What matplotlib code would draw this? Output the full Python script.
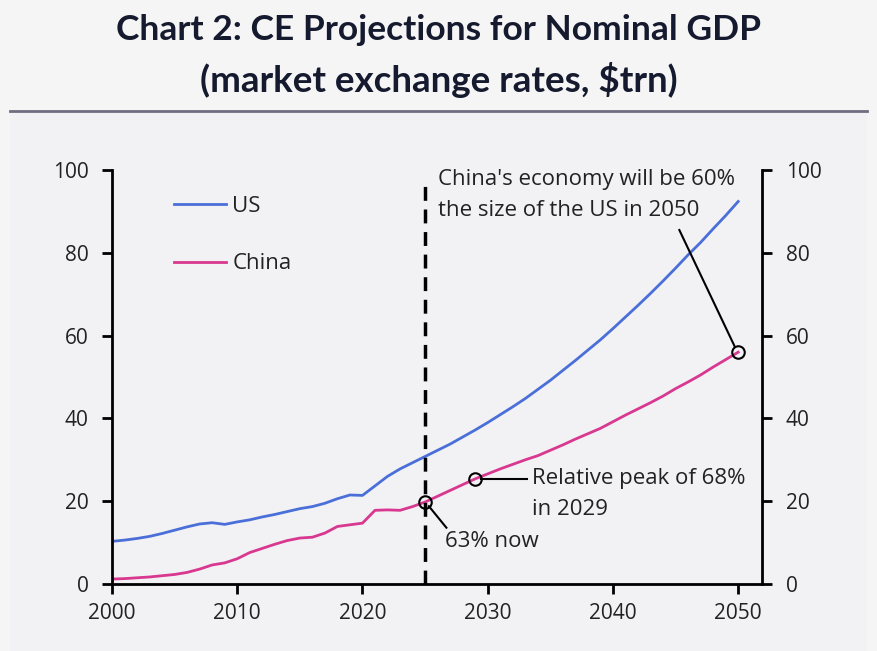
import numpy as np
import matplotlib
matplotlib.use("Agg")
import matplotlib.pyplot as plt
from matplotlib.patches import Rectangle

plt.rcParams['font.family'] = ['Open Sans', 'DejaVu Sans']

# data ($trn, market exchange rates)
years = list(range(2000, 2051))
us = [10.3, 10.6, 11.0, 11.5, 12.2, 13.0, 13.8, 14.5, 14.8, 14.4, 15.0, 15.5, 16.2, 16.8, 17.5,
      18.2, 18.7, 19.5, 20.6, 21.5, 21.4, 23.7, 26.0, 27.8, 29.3, 30.8, 32.3, 33.8, 35.5, 37.2,
      39.0, 40.9, 42.8, 44.8, 47.0, 49.2, 51.6, 54.0, 56.5, 59.0, 61.7, 64.5, 67.3, 70.2, 73.2,
      76.3, 79.5, 82.5, 85.8, 89.0, 92.4]
china = [1.2, 1.3, 1.5, 1.7, 2.0, 2.3, 2.8, 3.6, 4.6, 5.1, 6.1, 7.6, 8.6, 9.6, 10.5,
         11.1, 11.3, 12.3, 13.9, 14.3, 14.7, 17.8, 17.9, 17.8, 18.7, 19.8, 21.2, 22.6, 24.0, 25.4,
         26.6, 27.8, 28.9, 30.0, 31.0, 32.3, 33.6, 35.0, 36.3, 37.6, 39.2, 40.8, 42.3, 43.8, 45.4,
         47.2, 48.8, 50.5, 52.4, 54.2, 56.0]
yticks = [0, 20, 40, 60, 80, 100]
xticks = [2000, 2010, 2020, 2030, 2040, 2050]

blue = '#4a6fd8'
pink = '#d8388f'
txt = '#222222'
fs = 16

fig = plt.figure(figsize=(8.77, 6.51), dpi=100, facecolor='#f5f5f6')
fig.patches.append(Rectangle((10/877, 0), 857/877, 540/651, transform=fig.transFigure,
                             facecolor='#f2f2f5', edgecolor='none', zorder=-5))
fig.lines.append(plt.Line2D([10/877, 867/877], [540/651, 540/651], transform=fig.transFigure,
                            color='#6e6e80', lw=2, zorder=-4))

fig.text(0.5, 1 - 30/651, "Chart 2: CE Projections for Nominal GDP", ha='center', va='center',
         fontsize=25.5, fontweight='bold', color='#151a2e', family=['Lato', 'DejaVu Sans'])
fig.text(0.5, 1 - 80/651, "(market exchange rates, $trn)", ha='center', va='center',
         fontsize=26.5, fontweight='bold', color='#151a2e', family=['Lato', 'DejaVu Sans'])

ax = fig.add_axes([112/877, 1 - 584/651, 650/877, 414/651])
ax.set_facecolor('none')
ax.set_zorder(2)

ax.plot(years, us, color=blue, lw=2, label='US')
ax.plot(years, china, color=pink, lw=2, label='China')

ax.set_xlim(2000, 2051.9)
ax.set_ylim(0, 100)
ax.set_xticks(xticks)
ax.set_yticks(yticks)
ax.spines['top'].set_visible(False)
for s in ['left', 'right', 'bottom']:
    ax.spines[s].set_linewidth(2)
    ax.spines[s].set_color('black')
ax.tick_params(axis='both', direction='out', length=7, width=2, labelsize=15, labelcolor=txt)
ax.tick_params(axis='x', pad=7)
ax.tick_params(axis='y', left=True, right=True, labelleft=True, labelright=True, pad=10)

# vertical line at "now"
ax.plot([2025, 2025], [0, 97.5], color='black', lw=2.5, ls=(0, (4, 2.5)))

leg = ax.legend(loc='upper left', bbox_to_anchor=(0.096, 0.937), frameon=False, fontsize=fs,
                handlelength=2.3, handletextpad=0.3, labelspacing=1.63, borderpad=0, borderaxespad=0)
for t in leg.get_texts():
    t.set_color(txt)

# annotation markers
mk = dict(marker='o', ms=9, mfc='none', mec='black', mew=1.5, ls='none', zorder=5)
ax.plot([2025], [china[25]], **mk)
ax.plot([2029], [china[29]], **mk)
ax.plot([2050], [china[50]], **mk)

ax.plot([2025.3, 2026.7], [18.8, 13.6], color='black', lw=1.5)
ax.text(2026.6, 10.3, "63% now", fontsize=fs, color=txt, va='center', ha='left')

ax.plot([2029.5, 2033.1], [25.4, 25.4], color='black', lw=1.5)
ax.text(2033.5, 25.4, "Relative peak of 68%", fontsize=fs, color=txt, va='center', ha='left')
ax.text(2033.5, 17.9, "in 2029", fontsize=fs, color=txt, va='center', ha='left')

ax.plot([2045.3, 2049.7], [85.5, 57.5], color='black', lw=1.5)
ax.text(2026.0, 97.6, "China's economy will be 60%", fontsize=fs, color=txt, va='center', ha='left')
ax.text(2026.0, 90.3, "the size of the US in 2050", fontsize=fs, color=txt, va='center', ha='left')

fig.savefig('out.png', dpi=100, facecolor=fig.get_facecolor())
